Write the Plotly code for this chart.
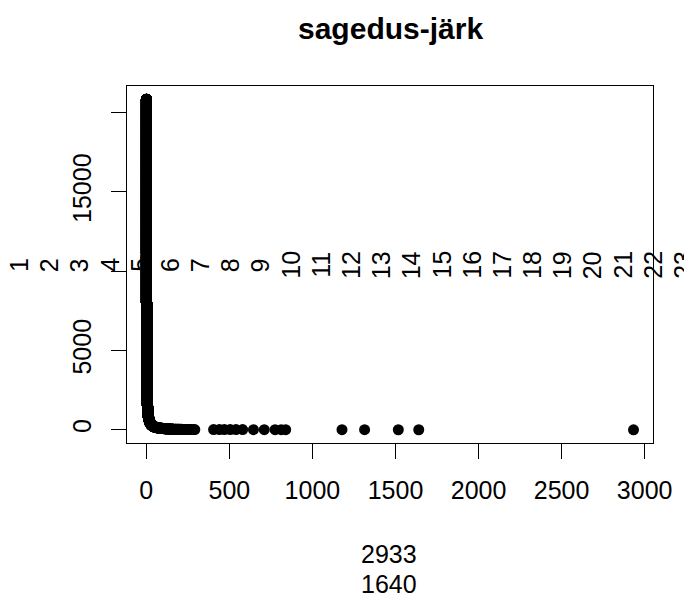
import numpy as np
import plotly.graph_objects as go

# ---------------- data ----------------
title_text = "sagedus-järk"

# the most frequent words (rank 1, 2, ...)
top_freqs = [2933, 1640, 1517, 1314, 1178, 839, 812, 775, 710, 645, 580, 540,
             505, 470, 440, 405, 292, 281, 270, 262, 254, 246, 239, 232, 225,
             219, 213, 207, 201]

# frequency spectrum for the dense part: frequency value -> number of words
spectrum_freq = [195, 185, 175, 165, 155, 145, 135, 125, 115, 105, 95, 85, 75,
                 65, 55, 50, 45, 40, 36, 32, 28, 25, 22, 20, 18, 16, 14, 12,
                 11, 10, 9, 8, 7, 6, 5, 4, 3, 2, 1]
spectrum_count = [2, 3, 3, 4, 4, 5, 6, 7, 8, 10, 12, 15, 18, 22, 28, 20, 25,
                  30, 32, 40, 50, 50, 60, 60, 70, 80, 100, 150, 100, 120, 150,
                  180, 230, 300, 400, 600, 1500, 3500, 12827]

x_tick_vals = [0, 500, 1000, 1500, 2000, 2500, 3000]
x_tick_text = ["0", "500", "1000", "1500", "2000", "2500", "3000"]
y_tick_vals = [0, 5000, 10000, 15000, 20000]
y_tick_text = ["0", "5000", "", "15000", ""]   # R drops overlapping labels

# ---------------- derived ----------------
freqs = np.concatenate([np.array(top_freqs),
                        np.repeat(np.array(spectrum_freq), np.array(spectrum_count))])
ranks = np.arange(1, len(freqs) + 1)

def r_range(v):
    lo, hi = float(np.min(v)), float(np.max(v))
    d = (hi - lo) * 0.04
    return [lo - d, hi + d]

xlab_items = [str(f) for f in freqs[:2]]    # further lines fall below the page
ylab_items = [str(r) for r in ranks[:23]]   # further lines fall right of the page

# ---------------- geometry (pixels) ----------------
W, H = 684, 601
L, R, T, B = 127, 27, 86, 158
PW, PH = W - L - R, H - T - B

def px_x(px):
    return (px - L) / PW

def px_y(py):
    return (H - B - py) / PH

FONT = "Liberation Sans, Arial, sans-serif"

fig = go.Figure()
fig.add_trace(go.Scatter(
    x=freqs, y=ranks, mode="markers",
    marker=dict(color="black", size=11, line=dict(width=0)),
    hoverinfo="skip", showlegend=False))

ann = []
ann.append(dict(text="<b>" + title_text + "</b>", x=px_x(392), y=px_y(29),
                xref="paper", yref="paper", showarrow=False,
                xanchor="center", yanchor="middle",
                font=dict(family=FONT, size=30, color="black")))
for i, t in enumerate(ylab_items):
    ann.append(dict(text=t, x=px_x(18.3 + 30.4 * i), y=px_y(265),
                    xref="paper", yref="paper", showarrow=False,
                    textangle=-90, xanchor="center", yanchor="middle",
                    font=dict(family=FONT, size=25, color="black")))
for i, t in enumerate(xlab_items):
    ann.append(dict(text=t, x=px_x(391), y=px_y(554 + 30 * i),
                    xref="paper", yref="paper", showarrow=False,
                    xanchor="center", yanchor="middle",
                    font=dict(family=FONT, size=25, color="black")))

fig.update_layout(
    width=W, height=H, margin=dict(l=L, r=R, t=T, b=B, pad=0),
    paper_bgcolor="white", plot_bgcolor="white",
    font=dict(family=FONT, size=25, color="black"),
    annotations=ann,
    xaxis=dict(range=r_range(freqs), tickvals=x_tick_vals, ticktext=x_tick_text,
               ticks="outside", ticklen=15, tickwidth=1, tickcolor="black",
               showline=True, mirror=True, linecolor="black", linewidth=1,
               showgrid=False, zeroline=False, ticklabelstandoff=10,
               tickfont=dict(family=FONT, size=25, color="black")),
    yaxis=dict(range=r_range(ranks), tickvals=y_tick_vals, ticktext=y_tick_text,
               ticks="outside", ticklen=15, tickwidth=1, tickcolor="black",
               showline=True, mirror=True, linecolor="black", linewidth=1,
               showgrid=False, zeroline=False, tickangle=-90, ticklabelstandoff=10,
               tickfont=dict(family=FONT, size=25, color="black")),
)

fig.write_html("out.html")
